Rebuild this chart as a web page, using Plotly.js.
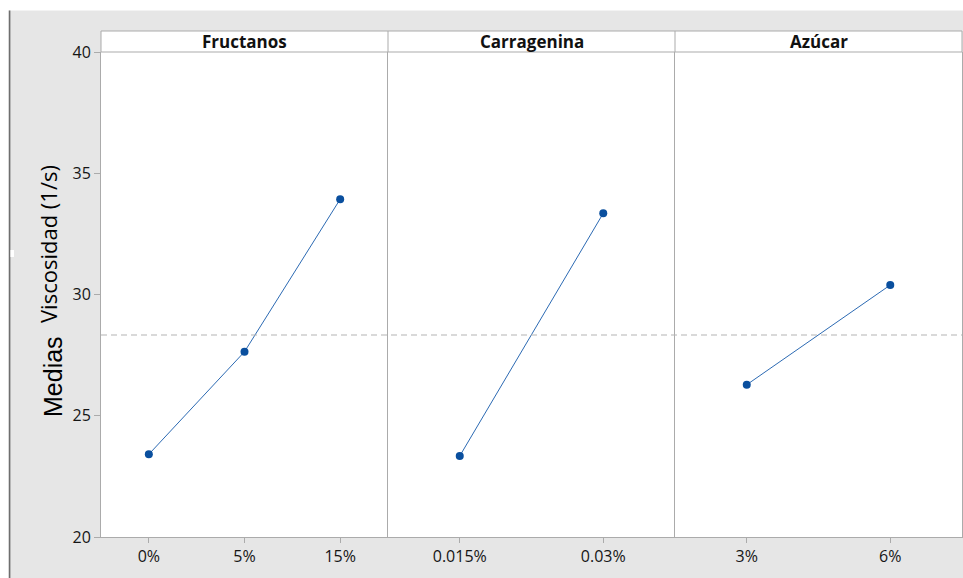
<!DOCTYPE html>
<html>
<head>
<meta charset="utf-8">
<script src="https://cdn.plot.ly/plotly-3.0.1.min.js"></script>
<style>
  html, body { margin: 0; padding: 0; background: #ffffff; }
  #chart { width: 963px; height: 578px; }
</style>
</head>
<body>
<div id="chart"></div>
<script>
// ---- Data ----
const factorNames = ["Fructanos", "Carragenina", "Azúcar"];
const fructanosLevels = ["0%", "5%", "15%"];
const fructanosMeans = [23.41, 27.64, 33.93];
const carrageninaLevels = ["0.015%", "0.03%"];
const carrageninaMeans = [23.34, 33.35];
const azucarLevels = ["3%", "6%"];
const azucarMeans = [26.28, 30.39];
const grandMean = 28.33;
const yTickValues = [20, 25, 30, 35, 40];
const yTitleMain = "Medias";
const yTitleSub = "Viscosidad (1/s)";

// ---- Layout helpers ----
const W = 963, H = 578;
const M = { l: 101, r: 1, t: 52, b: 41 };
const pw = W - M.l - M.r, ph = H - M.t - M.b;
const px2x = p => (p - M.l) / pw;
const px2y = p => (H - M.b - p) / ph;

const lineCol = '#2c6ab3';
const markCol = '#0a4f9e';
const frameCol = '#ababab';
const tickFont = { family: 'Open Sans, Noto Sans, sans-serif', size: 16, color: '#151515' };

const levelsList = [fructanosLevels, carrageninaLevels, azucarLevels];
const meansList = [fructanosMeans, carrageninaMeans, azucarMeans];

const traces = levelsList.map((lv, i) => ({
  type: 'scatter',
  mode: 'lines+markers',
  x: lv,
  y: meansList[i],
  xaxis: i === 0 ? 'x' : 'x' + (i + 1),
  yaxis: i === 0 ? 'y' : 'y' + (i + 1),
  line: { color: lineCol, width: 1 },
  marker: { color: markCol, size: 8 },
  hoverinfo: 'x+y',
  showlegend: false
}));

const layout = {
  width: W, height: H,
  margin: M,
  paper_bgcolor: '#e6e6e6',
  plot_bgcolor: '#ffffff',
  showlegend: false,
  font: tickFont,
  shapes: [],
  annotations: []
};

for (let i = 0; i < 3; i++) {
  const sx = i === 0 ? '' : String(i + 1);
  const n = levelsList[i].length;
  layout['xaxis' + sx] = {
    domain: [i / 3, (i + 1) / 3],
    anchor: 'y' + sx,
    type: 'category',
    range: [-0.5, n - 0.5],
    showgrid: false, zeroline: false,
    showline: true, mirror: false, linecolor: frameCol, linewidth: 1,
    ticks: 'outside', ticklen: 5, tickcolor: frameCol, tickwidth: 1,
    tickfont: tickFont,
    fixedrange: true
  };
  layout['yaxis' + sx] = {
    domain: [0, 1],
    anchor: 'x' + sx,
    range: [20, 40],
    tickvals: yTickValues,
    showgrid: false, zeroline: false,
    showline: true, mirror: i === 2, linecolor: frameCol, linewidth: 1,
    ticks: i === 0 ? 'outside' : '',
    ticklen: 6, tickcolor: frameCol, tickwidth: 1,
    showticklabels: i === 0,
    tickfont: tickFont,
    fixedrange: true
  };
  if (i > 0) layout['yaxis' + sx].matches = 'y';

  // header strip title
  layout.annotations.push({
    xref: 'paper', yref: 'paper',
    x: (i + 0.5) / 3, y: (1 + px2y(31)) / 2,
    xanchor: 'center', yanchor: 'middle',
    text: '<b>' + factorNames[i] + '</b>',
    showarrow: false,
    font: { family: 'Open Sans, Noto Sans, sans-serif', size: 17, color: '#111111' }
  });
}

// outer white margins and dark left rule of the image
layout.shapes.push(
  { type: 'rect', xref: 'paper', yref: 'paper', layer: 'below',
    x0: px2x(-2), x1: px2x(W + 2), y0: px2y(10.5), y1: px2y(-2),
    fillcolor: '#ffffff', line: { width: 0 } },
  { type: 'rect', xref: 'paper', yref: 'paper', layer: 'below',
    x0: px2x(-2), x1: px2x(8.5), y0: px2y(H + 2), y1: px2y(-2),
    fillcolor: '#ffffff', line: { width: 0 } },
  { type: 'line', xref: 'paper', yref: 'paper', layer: 'below',
    x0: px2x(9.6), x1: px2x(9.6), y0: px2y(10.5), y1: px2y(H + 2),
    line: { color: '#6e6e6e', width: 1.6 } },
  { type: 'rect', xref: 'paper', yref: 'paper', layer: 'below',
    x0: px2x(10.5), x1: px2x(14), y0: px2y(257), y1: px2y(250),
    fillcolor: '#ffffff', line: { width: 0 } }
);

// header strip box with dividers
layout.shapes.push(
  { type: 'rect', xref: 'paper', yref: 'paper', layer: 'below',
    x0: 0, x1: 1, y0: 1, y1: px2y(31),
    fillcolor: '#ffffff', line: { color: frameCol, width: 1 } },
  { type: 'line', xref: 'paper', yref: 'paper', layer: 'above',
    x0: 1 / 3, x1: 1 / 3, y0: 1, y1: px2y(31), line: { color: frameCol, width: 1 } },
  { type: 'line', xref: 'paper', yref: 'paper', layer: 'above',
    x0: 2 / 3, x1: 2 / 3, y0: 1, y1: px2y(31), line: { color: frameCol, width: 1 } }
);

// grand mean reference line
layout.shapes.push({
  type: 'line', xref: 'paper', yref: 'y', layer: 'above',
  x0: 0, x1: 1, y0: grandMean, y1: grandMean,
  line: { color: '#b3b3b3', width: 1.2, dash: '6px,4px' }
});

// y axis title (two parts with different fonts)
layout.annotations.push(
  { xref: 'paper', yref: 'paper', x: px2x(48), y: px2y(244),
    xanchor: 'center', yanchor: 'middle', textangle: -90, showarrow: false,
    text: yTitleSub,
    font: { family: 'Open Sans, Noto Sans, sans-serif', size: 22, color: '#000000' } },
  { xref: 'paper', yref: 'paper', x: px2x(53), y: px2y(377),
    xanchor: 'center', yanchor: 'middle', textangle: -90, showarrow: false,
    text: yTitleMain,
    font: { family: 'Liberation Sans, Arial, sans-serif', size: 25, color: '#000000' } }
);

Plotly.newPlot('chart', traces, layout, { displayModeBar: false, staticPlot: true });
</script>
</body>
</html>
